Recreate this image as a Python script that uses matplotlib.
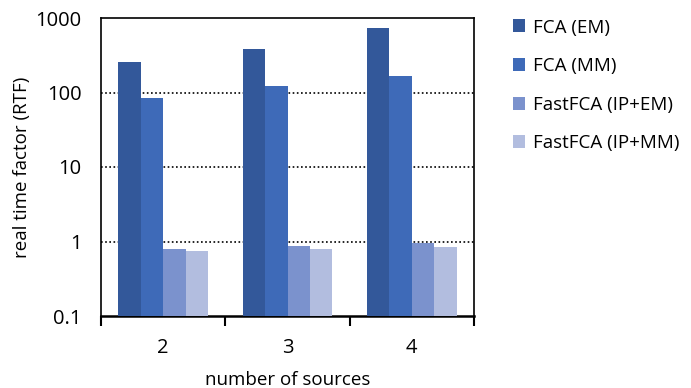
import numpy as np
import matplotlib.pyplot as plt
from matplotlib.patches import Patch

plt.rcParams['font.family'] = ['Open Sans', 'DejaVu Sans']

# Data
sources = ["2", "3", "4"]
series = ["FCA (EM)", "FCA (MM)", "FastFCA (IP+EM)", "FastFCA (IP+MM)"]
fca_em = [259, 380, 726]
fca_mm = [84, 124, 165]
fast_ip_em = [0.80, 0.87, 0.95]
fast_ip_mm = [0.75, 0.785, 0.84]
colors = ["#33589A", "#3E6AB8", "#7B92CD", "#B2BDDF"]

values = [fca_em, fca_mm, fast_ip_em, fast_ip_mm]

fig = plt.figure(figsize=(6.91, 3.88), dpi=100)
ax = fig.add_axes([101 / 691, 1 - 316 / 388, 373 / 691, 298 / 388])

x = np.arange(len(sources))
w = 0.18
for i, (vals, col) in enumerate(zip(values, colors)):
    ax.bar(x + (i - 1.5) * w, vals, width=w, color=col,
           edgecolor='none', zorder=3, label=series[i])

ax.set_yscale('log')
ax.set_ylim(0.1, 1000)
ax.set_xlim(-0.5, 2.5)
ax.set_yticks([0.1, 1, 10, 100, 1000])
ax.set_yticklabels(["0.1", "1", "10", "100", "1000"])
ax.minorticks_off()
ax.tick_params(axis='y', length=0, pad=14, labelsize=14.5)

# category ticks at group boundaries, labels centred
ax.set_xticks([-0.5, 0.5, 1.5, 2.5])
ax.set_xticklabels([])
ax.set_xticks(x, minor=True)
ax.set_xticklabels(sources, minor=True)
ax.tick_params(axis='x', which='major', length=7, width=1.5, direction='out')
ax.tick_params(axis='x', which='minor', length=0, pad=16, labelsize=14.5)

for yv in [1, 10, 100]:
    ax.axhline(yv, color='black', linestyle=(0, (1, 1.5)), linewidth=1.2, zorder=2)

for s in ['left', 'top', 'right']:
    ax.spines[s].set_linewidth(1.2)
ax.spines['bottom'].set_linewidth(1.8)

ax.set_ylabel("real time factor (RTF)", fontsize=13.5, labelpad=3)
ax.set_xlabel("number of sources", fontsize=13.5, labelpad=9)

handles = [Patch(facecolor=c, edgecolor='none') for c in colors]
fig.legend(handles, series, loc='upper left', bbox_to_anchor=(505 / 691, 1 - 11 / 388),
           frameon=False, fontsize=13.5, handlelength=0.68, handleheight=0.68,
           handletextpad=0.4, labelspacing=1.1, borderaxespad=0)

fig.savefig("out.png", dpi=100)
